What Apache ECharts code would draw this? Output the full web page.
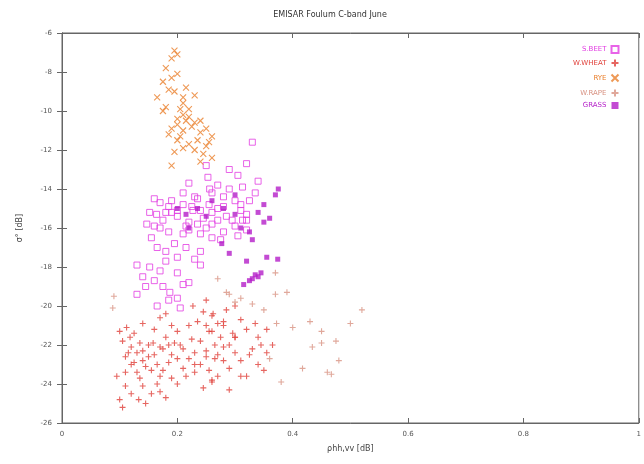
<!DOCTYPE html>
<html><head><meta charset="utf-8">
<script src="https://cdn.jsdelivr.net/npm/echarts@6/dist/echarts.min.js"></script>
<style>html,body{margin:0;padding:0;background:#fff}#c{width:644px;height:464px}</style>
</head><body><div id="c"></div>
<script>
const titleText = "EMISAR Foulum C-band June";
const seriesNames = ["S.BEET", "W.WHEAT", "RYE", "W.RAPE", "GRASS"];
const xTicks = [0, 0.2, 0.4, 0.6, 0.8, 1];
const yTicks = [-6, -8, -10, -12, -14, -16, -18, -20, -22, -24, -26];

const sBeet = [[0.33,-11.6],[0.32,-12.7],[0.25,-12.8],[0.253,-13.4],[0.22,-13.7],[0.305,-13.3],[0.313,-13.9],[0.21,-14.2],[0.17,-14.7],[0.256,-14.0],[0.28,-14.4],[0.325,-14.6],[0.152,-15.2],[0.18,-15.2],[0.2,-15.1],[0.21,-14.8],[0.225,-14.9],[0.24,-15.1],[0.255,-14.8],[0.28,-14.9],[0.32,-15.3],[0.147,-15.8],[0.16,-15.9],[0.175,-15.6],[0.2,-15.4],[0.22,-15.7],[0.245,-15.5],[0.26,-15.8],[0.27,-15.6],[0.32,-15.6],[0.164,-15.3],[0.19,-15.2],[0.227,-15.1],[0.27,-15.0],[0.285,-15.4],[0.313,-15.6],[0.17,-16.0],[0.21,-16.3],[0.22,-16.1],[0.24,-16.3],[0.26,-16.5],[0.28,-16.2],[0.30,-15.9],[0.32,-16.1],[0.18,-17.2],[0.24,-17.2],[0.18,-17.7],[0.152,-18.0],[0.17,-18.2],[0.24,-17.9],[0.23,-17.6],[0.14,-18.5],[0.22,-18.8],[0.21,-18.9],[0.187,-19.3],[0.2,-19.6],[0.185,-19.7],[0.29,-13.0],[0.27,-13.8],[0.235,-14.5],
  [0.16,-14.5],[0.19,-14.6],[0.23,-14.4],[0.26,-14.2],[0.29,-14.0],[0.31,-14.8],[0.335,-14.2],[0.34,-13.6],[0.155,-16.5],[0.185,-16.2],[0.195,-16.8],[0.215,-15.9],[0.235,-15.8],[0.25,-16.0],[0.275,-16.6],[0.295,-15.6],[0.305,-16.4],[0.165,-17.0],[0.2,-17.5],[0.215,-17.0],[0.13,-17.9],[0.145,-19.0],[0.16,-18.7],[0.175,-19.0],[0.2,-18.3],[0.13,-19.4],[0.165,-20.0],[0.205,-20.1],[0.3,-14.6],[0.26,-15.2],[0.31,-15.1],[0.185,-14.9]];
const wWheat = [[0.112,-21.1],[0.14,-20.9],[0.17,-20.6],[0.18,-20.4],[0.227,-20.0],[0.245,-20.3],[0.26,-20.5],[0.28,-20.8],[0.3,-20.0],[0.118,-21.6],[0.135,-21.9],[0.158,-21.9],[0.18,-21.6],[0.2,-21.3],[0.22,-21.0],[0.235,-20.8],[0.26,-21.3],[0.28,-21.0],[0.3,-21.6],[0.12,-22.1],[0.13,-22.4],[0.14,-22.3],[0.16,-22.5],[0.175,-22.2],[0.19,-22.5],[0.21,-22.2],[0.23,-22.4],[0.25,-22.3],[0.27,-22.5],[0.28,-22.1],[0.30,-22.4],[0.11,-22.6],[0.125,-22.9],[0.14,-22.8],[0.165,-23.0],[0.185,-22.9],[0.21,-23.2],[0.23,-23.0],[0.255,-23.3],[0.11,-23.4],[0.13,-23.4],[0.155,-23.3],[0.17,-23.6],[0.19,-23.7],[0.23,-23.4],[0.26,-23.8],[0.2,-24.0],[0.165,-24.0],[0.14,-24.1],[0.11,-24.1],[0.1,-24.8],[0.133,-24.8],[0.155,-24.5],[0.18,-24.7],[0.105,-25.2],[0.25,-19.7],[0.262,-20.4],[0.27,-20.9],[0.255,-21.3],[0.296,-21.4],[0.3,-21.6],[0.34,-21.6],[0.345,-22.0],[0.33,-22.2],[0.29,-22.0],[0.265,-22.0],[0.25,-22.6],[0.28,-22.8],[0.29,-23.2],[0.31,-22.8],[0.355,-22.4],[0.35,-23.3],[0.31,-23.6],[0.27,-23.6],[0.26,-23.9],[0.29,-24.3],[0.32,-23.6],[0.15,-22.0],[0.17,-22.1],[0.195,-21.9],[0.145,-23.1],[0.2,-22.7],[0.22,-22.7],[0.24,-21.8],[0.125,-21.4],
  [0.105,-21.8],[0.115,-22.4],[0.12,-23.0],[0.135,-23.7],[0.15,-22.6],[0.16,-21.2],[0.175,-23.3],[0.185,-22.0],[0.19,-21.0],[0.205,-22.0],[0.215,-23.6],[0.225,-21.7],[0.24,-23.0],[0.245,-24.2],[0.25,-21.0],[0.265,-22.7],[0.275,-21.6],[0.285,-20.2],[0.31,-20.7],[0.32,-21.2],[0.325,-22.5],[0.335,-20.9],[0.34,-23.0],[0.355,-21.2],[0.365,-22.0],[0.12,-24.5],[0.145,-25.0],[0.17,-24.4],[0.095,-23.6],[0.1,-21.3]];
const rye = [[0.195,-6.9],[0.2,-7.1],[0.19,-7.3],[0.18,-7.8],[0.175,-8.5],[0.19,-8.3],[0.2,-8.1],[0.185,-8.9],[0.21,-9.3],[0.23,-9.2],[0.18,-9.8],[0.21,-9.6],[0.22,-9.9],[0.2,-10.4],[0.21,-10.2],[0.24,-10.5],[0.19,-10.9],[0.2,-10.7],[0.21,-11.0],[0.225,-10.8],[0.24,-11.1],[0.25,-10.9],[0.23,-10.6],[0.215,-10.5],[0.205,-11.3],[0.2,-11.5],[0.22,-11.7],[0.235,-11.5],[0.25,-11.8],[0.195,-12.1],[0.245,-12.2],[0.26,-11.3],[0.255,-11.6],[0.23,-12.0],[0.21,-11.9],[0.185,-11.2],[0.175,-10.0],[0.24,-12.6],[0.19,-12.8],[0.26,-12.4],[0.22,-10.3],[0.205,-9.9],[0.195,-9.0],[0.215,-8.8],[0.165,-9.3]];
const wRape = [[0.52,-20.2],[0.50,-20.9],[0.45,-21.3],[0.45,-21.9],[0.434,-22.1],[0.475,-21.8],[0.48,-22.8],[0.46,-23.4],[0.467,-23.5],[0.417,-23.2],[0.43,-20.8],[0.40,-21.1],[0.372,-20.9],[0.39,-19.3],[0.37,-18.3],[0.27,-18.6],[0.285,-19.3],[0.29,-19.4],[0.3,-19.8],[0.31,-19.6],[0.37,-19.4],[0.088,-20.1],[0.09,-19.5],[0.35,-20.2],[0.33,-19.9],[0.36,-22.7],[0.38,-23.9]];
const grass = [[0.375,-14.0],[0.37,-14.3],[0.35,-15.7],[0.34,-15.2],[0.325,-16.2],[0.29,-17.3],[0.277,-16.8],[0.32,-17.7],[0.355,-17.5],[0.374,-17.6],[0.325,-18.7],[0.33,-18.6],[0.34,-18.5],[0.345,-18.3],[0.315,-18.9],[0.335,-18.4],[0.36,-15.5],[0.31,-16.0],[0.3,-15.3],[0.28,-15.0],[0.33,-16.6],[0.35,-14.8],[0.3,-14.3],[0.2,-15.0],[0.215,-15.3],[0.235,-15.0],[0.25,-15.4],[0.22,-16.0],[0.26,-14.6]];

const colors = ["#e23ce2", "#e0403a", "#ea7f2c", "#d89282", "#b41ec8"];
const plusPath = "path://M0,5L10,5M5,0L5,10";
const crossPath = "path://M0,0L10,10M0,10L10,0";
const symbols = ["rect", plusPath, crossPath, plusPath, "rect"];
const datasets = [sBeet, wWheat, rye, wRape, grass];

const chart = echarts.init(document.getElementById('c'), null, {renderer: 'canvas'});
const axisCommon = {
  axisLine: {show: true, lineStyle: {color: '#666', width: 1}},
  axisTick: {show: true, inside: true, length: 5, lineStyle: {color: '#666'}},
  splitLine: {show: false}
};
const series = datasets.map((d, i) => ({
  name: seriesNames[i],
  type: 'scatter',
  data: d,
  symbol: symbols[i],
  symbolSize: i === 4 ? 5 : 6,
  itemStyle: (i === 0)
    ? {color: 'rgba(0,0,0,0)', borderColor: colors[i], borderWidth: 1}
    : (i === 4 ? {color: colors[i]} : {color: 'none', borderColor: colors[i], borderWidth: 1.1}),
  emphasis: {disabled: true},
  animation: false
}));
chart.setOption({
  animation: false,
  title: {text: titleText, left: 325, top: 6, textAlign: 'center',
    textStyle: {fontSize: 8, fontWeight: 'normal', color: '#333', fontFamily: 'DejaVu Sans'}},
  legend: {
    orient: 'vertical', right: 18, top: 40, align: 'right',
    itemWidth: 7, itemHeight: 7, itemGap: 3,
    textStyle: {fontSize: 7, fontFamily: 'DejaVu Sans'},
    data: seriesNames.map((n, i) => ({name: n, textStyle: {color: colors[i]}}))
  },
  grid: {left: 62, right: 4, top: 33, bottom: 41, show: true, borderColor: '#666', borderWidth: 1},
  xAxis: [Object.assign({
    type: 'value', min: 0, max: 1, interval: 0.2,
    name: 'ρhh,vv [dB]', nameLocation: 'middle', nameGap: 22,
    nameTextStyle: {fontSize: 8, color: '#444', fontFamily: 'DejaVu Sans'},
    axisLabel: {fontSize: 7, color: '#555', margin: 8, fontFamily: 'DejaVu Sans',
      formatter: v => xTicks.includes(+v.toFixed(1)) ? String(+v.toFixed(1)) : ''}
  }, axisCommon), Object.assign({
    type: 'value', min: 0, max: 1, interval: 0.2, position: 'top', axisLabel: {show: false}
  }, axisCommon)],
  yAxis: [Object.assign({
    type: 'value', min: -26, max: -6, interval: 2,
    name: 'σ° [dB]', nameLocation: 'middle', nameGap: 38, nameRotate: 90,
    nameTextStyle: {fontSize: 8, color: '#444', fontFamily: 'DejaVu Sans'},
    axisLabel: {fontSize: 7, color: '#555', margin: 10, fontFamily: 'DejaVu Sans',
      formatter: v => yTicks.includes(v) ? String(v) : ''}
  }, axisCommon), Object.assign({
    type: 'value', min: -26, max: -6, interval: 2, position: 'right', axisLabel: {show: false}
  }, axisCommon)],
  series: series
});
</script></body></html>
